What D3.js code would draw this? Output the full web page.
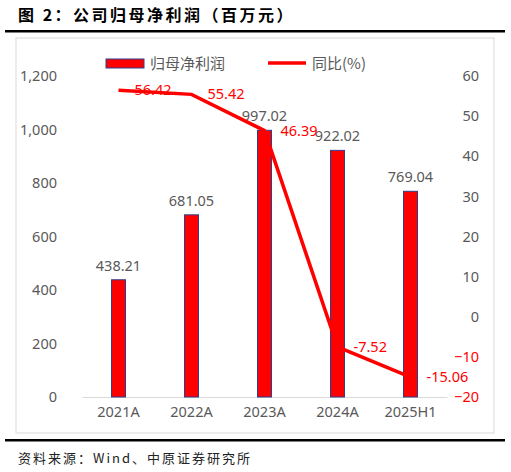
<!DOCTYPE html>
<html><head><meta charset="utf-8">
<script src="https://cdn.jsdelivr.net/npm/d3@7"></script>
<style>body{margin:0;background:#fff}text{font-family:"Noto Sans","Noto Sans CJK SC",sans-serif}</style>
</head><body>
<script>
const WIDTH = 511, HEIGHT = 472;
const categories = ["2021A", "2022A", "2023A", "2024A", "2025H1"];
const profit = [438.21, 681.05, 997.02, 922.02, 769.04];
const growth = [56.42, 55.42, 46.39, -7.52, -15.06];
const leftTicks = [0, 200, 400, 600, 800, 1000, 1200];
const rightTicks = [-20, -10, 0, 10, 20, 30, 40, 50, 60];

const svg = d3.select("body").append("svg").attr("width", WIDTH).attr("height", HEIGHT);
const GRAY = "#595959", RED = "#ff0000";
const CJK = "'Noto Sans CJK SC',sans-serif";

// title + rules
svg.append("text").attr("x", 18).attr("y", 21).style("font-family", CJK)
  .style("font-weight", "bold").style("font-size", "16px").style("letter-spacing", "2.5px")
  .text("图 2：公司归母净利润（百万元）");
svg.append("rect").attr("x", 5).attr("y", 30).attr("width", 500).attr("height", 2.5).attr("fill", "#000");
svg.append("rect").attr("x", 5).attr("y", 439).attr("width", 500).attr("height", 2.5).attr("fill", "#000");
svg.append("text").attr("x", 18).attr("y", 463).style("font-family", CJK)
  .style("font-size", "13px").style("letter-spacing", "2px").attr("fill", "#222")
  .text("资料来源：Wind、中原证券研究所");
svg.append("rect").attr("x", 16).attr("y", 38).attr("width", 478).attr("height", 395)
  .attr("fill", "none").attr("stroke", "#d9d9d9");

const x = d3.scaleBand().domain(categories).range([82, 447]);
const yL = d3.scaleLinear().domain([0, 1200]).range([397, 76]);
const yR = d3.scaleLinear().domain([-20, 60]).range([397, 76]);

const gl = svg.append("g").attr("transform", "translate(60,0)")
  .call(d3.axisLeft(yL).tickValues(leftTicks).tickSize(0).tickFormat(d3.format(",")));
gl.select(".domain").remove();
gl.selectAll("text").attr("fill", GRAY).style("font-size", "14.5px");
const gr = svg.append("g").attr("transform", "translate(482,0)")
  .call(d3.axisLeft(yR).tickValues(rightTicks).tickSize(0));
gr.select(".domain").remove();
gr.selectAll("text").attr("fill", d => d < 0 ? RED : GRAY).style("font-size", "14.5px");
const gx = svg.append("g").attr("transform", "translate(0,397)")
  .call(d3.axisBottom(x).tickSize(0).tickPadding(10));
gx.select(".domain").attr("stroke", "#d9d9d9");
gx.selectAll("text").attr("fill", GRAY).style("font-size", "14.5px");

const bw = 14;
svg.selectAll(".bar").data(profit).join("rect").attr("class", "bar")
  .attr("x", (d, i) => x(categories[i]) + x.bandwidth() / 2 - bw / 2)
  .attr("y", d => yL(d)).attr("width", bw).attr("height", d => yL(0) - yL(d))
  .attr("fill", RED).attr("stroke", "#2f3f8f").attr("stroke-width", 1);
svg.selectAll(".blab").data(profit).join("text").attr("class", "blab")
  .attr("x", (d, i) => x(categories[i]) + x.bandwidth() / 2).attr("y", d => yL(d) - 9)
  .attr("text-anchor", "middle").attr("fill", GRAY).style("font-size", "14.5px")
  .text(d => d.toFixed(2));

const line = d3.line().x((d, i) => x(categories[i]) + x.bandwidth() / 2).y(d => yR(d));
svg.append("path").datum(growth).attr("d", line).attr("fill", "none")
  .attr("stroke", RED).attr("stroke-width", 3.5);
svg.selectAll(".llab").data(growth).join("text").attr("class", "llab")
  .attr("x", (d, i) => x(categories[i]) + x.bandwidth() / 2 + 16).attr("y", d => yR(d) + 5)
  .attr("fill", RED).style("font-size", "14.5px").text(d => d.toFixed(2));

// legend
svg.append("rect").attr("x", 106).attr("y", 59).attr("width", 38).attr("height", 9)
  .attr("fill", RED).attr("stroke", "#2f3f8f");
svg.append("text").attr("x", 150).attr("y", 69).style("font-family", CJK)
  .attr("fill", GRAY).style("font-size", "15px").text("归母净利润");
svg.append("line").attr("x1", 268).attr("x2", 306).attr("y1", 63).attr("y2", 63)
  .attr("stroke", RED).attr("stroke-width", 3.5);
svg.append("text").attr("x", 312).attr("y", 69).style("font-family", CJK)
  .attr("fill", GRAY).style("font-size", "15px").text("同比(%)");
</script>
</body></html>
